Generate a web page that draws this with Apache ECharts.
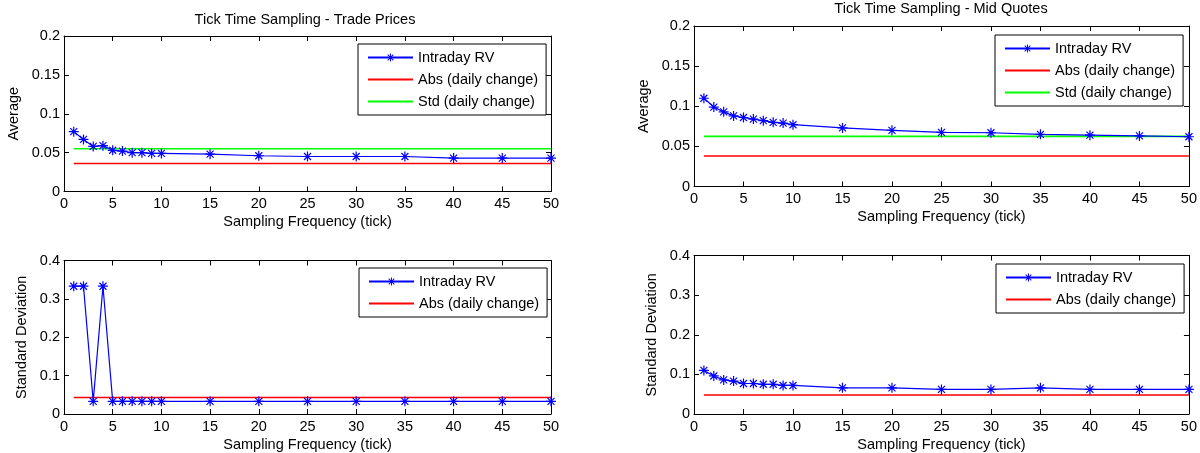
<!DOCTYPE html>
<html>
<head>
<meta charset="utf-8">
<script src="https://cdn.jsdelivr.net/npm/echarts@6/dist/echarts.min.js"></script>
<style>html,body{margin:0;padding:0;background:#fff}#c{width:1200px;height:453px}</style>
</head>
<body>
<div id="c"></div>
<script>
// ---- data ----
var freq = [1, 2, 3, 4, 5, 6, 7, 8, 9, 10, 15, 20, 25, 30, 35, 40, 45, 50];
var tradeAvgRV = [0.077, 0.067, 0.058, 0.059, 0.053, 0.052, 0.050, 0.050, 0.049, 0.049, 0.048, 0.046, 0.045, 0.045, 0.045, 0.043, 0.043, 0.043];
var tradeAvgAbs = 0.036;
var tradeAvgStd = 0.055;
var midAvgRV = [0.110, 0.099, 0.093, 0.088, 0.086, 0.084, 0.082, 0.080, 0.079, 0.077, 0.073, 0.070, 0.0675, 0.067, 0.065, 0.064, 0.063, 0.062];
var midAvgAbs = 0.038;
var midAvgStd = 0.0625;
var tradeStdRV = [0.333, 0.333, 0.033, 0.333, 0.033, 0.033, 0.033, 0.033, 0.033, 0.033, 0.033, 0.033, 0.033, 0.033, 0.033, 0.033, 0.033, 0.033];
var tradeStdAbs = 0.043;
var midStdRV = [0.110, 0.096, 0.086, 0.083, 0.077, 0.077, 0.075, 0.075, 0.072, 0.072, 0.066, 0.066, 0.062, 0.062, 0.066, 0.062, 0.062, 0.062];
var midStdAbs = 0.048;
var xTicks = [0, 5, 10, 15, 20, 25, 30, 35, 40, 45, 50];
var avgTicks = [0, 0.05, 0.1, 0.15, 0.2];
var sdTicks = [0, 0.1, 0.2, 0.3, 0.4];
var titles = ['Tick Time Sampling - Trade Prices', 'Tick Time Sampling - Mid Quotes'];
var names = ['Intraday RV', 'Abs (daily change)', 'Std (daily change)'];

// ---- chart ----
var FONT = "'Liberation Sans', Arial, Helvetica, sans-serif";
var FS = 14.5;
var ASTER = 'path://M-5,-0.6L5,-0.6L5,0.6L-5,0.6Z' +
  'M0.6,-5L0.6,5L-0.6,5L-0.6,-5Z' +
  'M-3.08,-3.92L3.92,3.08L3.08,3.92L-3.92,-3.08Z' +
  'M-3.92,3.08L3.08,-3.92L3.92,-3.08L-3.08,3.92Z';

var grids = [
  {left: 64, top: 36, width: 487, height: 155.5},
  {left: 694, top: 26, width: 498, height: 160.5},
  {left: 64, top: 260.5, width: 487, height: 155},
  {left: 694, top: 255.5, width: 498, height: 160}
];
var yTicks = [avgTicks, avgTicks, sdTicks, sdTicks];
var yNames = ['Average', 'Average', 'Standard Deviation', 'Standard Deviation'];
var yGaps = [43, 43, 35, 35];

var xAxes = [], yAxes = [];
var lineStyleAxis = {color: '#000', width: 1};
grids.forEach(function (g, i) {
  var xt = xTicks, yt = yTicks[i];
  var xi = xt[1] - xt[0], yi = yt[1] - yt[0];
  xAxes.push({
    type: 'value', gridIndex: i, position: 'bottom', min: xt[0], max: xt[xt.length - 1], interval: xi,
    name: 'Sampling Frequency (tick)', nameLocation: 'middle', nameGap: 23,
    nameTextStyle: {color: '#000', fontSize: FS, fontFamily: FONT},
    axisLine: {show: true, onZero: false, lineStyle: lineStyleAxis},
    axisTick: {show: true, inside: true, length: 5, lineStyle: lineStyleAxis},
    axisLabel: {color: '#000', fontSize: FS, fontFamily: FONT, margin: 5},
    splitLine: {show: false}
  });
  xAxes.push({
    type: 'value', gridIndex: i, position: 'top', min: xt[0], max: xt[xt.length - 1], interval: xi,
    axisLine: {show: true, onZero: false, lineStyle: lineStyleAxis},
    axisTick: {show: true, inside: true, length: 5, lineStyle: lineStyleAxis},
    axisLabel: {show: false}, splitLine: {show: false}
  });
  yAxes.push({
    type: 'value', gridIndex: i, position: 'left', min: yt[0], max: yt[yt.length - 1], interval: yi,
    name: yNames[i], nameLocation: 'middle', nameGap: yGaps[i], nameRotate: 90,
    nameTextStyle: {color: '#000', fontSize: FS, fontFamily: FONT},
    axisLine: {show: true, onZero: false, lineStyle: lineStyleAxis},
    axisTick: {show: true, inside: true, length: 5, lineStyle: lineStyleAxis},
    axisLabel: {color: '#000', fontSize: FS, fontFamily: FONT, margin: 4},
    splitLine: {show: false}
  });
  yAxes.push({
    type: 'value', gridIndex: i, position: 'right', min: yt[0], max: yt[yt.length - 1], interval: yi,
    axisLine: {show: true, onZero: false, lineStyle: lineStyleAxis},
    axisTick: {show: true, inside: true, length: 5, lineStyle: lineStyleAxis},
    axisLabel: {show: false}, splitLine: {show: false}
  });
});

function pairs(vals) { return freq.map(function (f, k) { return [f, vals[k]]; }); }
function flat(v) { return freq.map(function (f) { return [f, v]; }); }
function flatSeries(name, color, v, i) {
  return {
    type: 'line', name: name, xAxisIndex: 2 * i, yAxisIndex: 2 * i, data: flat(v),
    symbol: 'none', showSymbol: false, lineStyle: {color: color, width: 1.6}, itemStyle: {color: color},
    silent: true, animation: false, z: 2
  };
}
function rvSeries(vals, i) {
  return {
    type: 'line', name: names[0], xAxisIndex: 2 * i, yAxisIndex: 2 * i, data: pairs(vals),
    symbol: ASTER, symbolSize: 10, showSymbol: true,
    lineStyle: {color: '#0000ff', width: 1.2}, itemStyle: {color: '#0000ff'},
    silent: true, animation: false, z: 3
  };
}

var series = [
  flatSeries(names[1], '#ff0000', tradeAvgAbs, 0),
  flatSeries(names[2], '#00ff00', tradeAvgStd, 0),
  rvSeries(tradeAvgRV, 0),
  flatSeries(names[1], '#ff0000', midAvgAbs, 1),
  flatSeries(names[2], '#00ff00', midAvgStd, 1),
  rvSeries(midAvgRV, 1),
  flatSeries(names[1], '#ff0000', tradeStdAbs, 2),
  rvSeries(tradeStdRV, 2),
  flatSeries(names[1], '#ff0000', midStdAbs, 3),
  rvSeries(midStdRV, 3)
];

function legendItems(list) {
  return list.map(function (n, k) {
    return k === 0 ? {name: n} : {name: n, itemStyle: {opacity: 0}};
  });
}
function legend(left, top, data) {
  return {
    left: left, top: top, orient: 'vertical', data: legendItems(data), selectedMode: false,
    itemWidth: 45, itemHeight: 10, itemGap: 7,
    padding: [6, 8, 6, 9], borderColor: '#000', borderWidth: 1, borderRadius: 0,
    backgroundColor: '#fff',
    textStyle: {color: '#000', fontSize: FS, fontFamily: FONT, lineHeight: 15}
  };
}

var option = {
  backgroundColor: '#fff',
  animation: false,
  title: [
    {text: titles[0], left: 305, top: 12, textAlign: 'center', padding: 0,
     textStyle: {color: '#000', fontSize: FS, fontWeight: 'normal', fontFamily: FONT}},
    {text: titles[1], left: 941, top: 1, textAlign: 'center', padding: 0,
     textStyle: {color: '#000', fontSize: FS, fontWeight: 'normal', fontFamily: FONT}}
  ],
  legend: [
    legend(358, 44, names),
    legend(995, 35, names),
    legend(359, 268, names.slice(0, 2)),
    legend(996, 264, names.slice(0, 2))
  ],
  grid: grids,
  xAxis: xAxes,
  yAxis: yAxes,
  series: series
};

var chart = echarts.init(document.getElementById('c'), null, {renderer: 'canvas'});
chart.setOption(option);
</script>
</body>
</html>
